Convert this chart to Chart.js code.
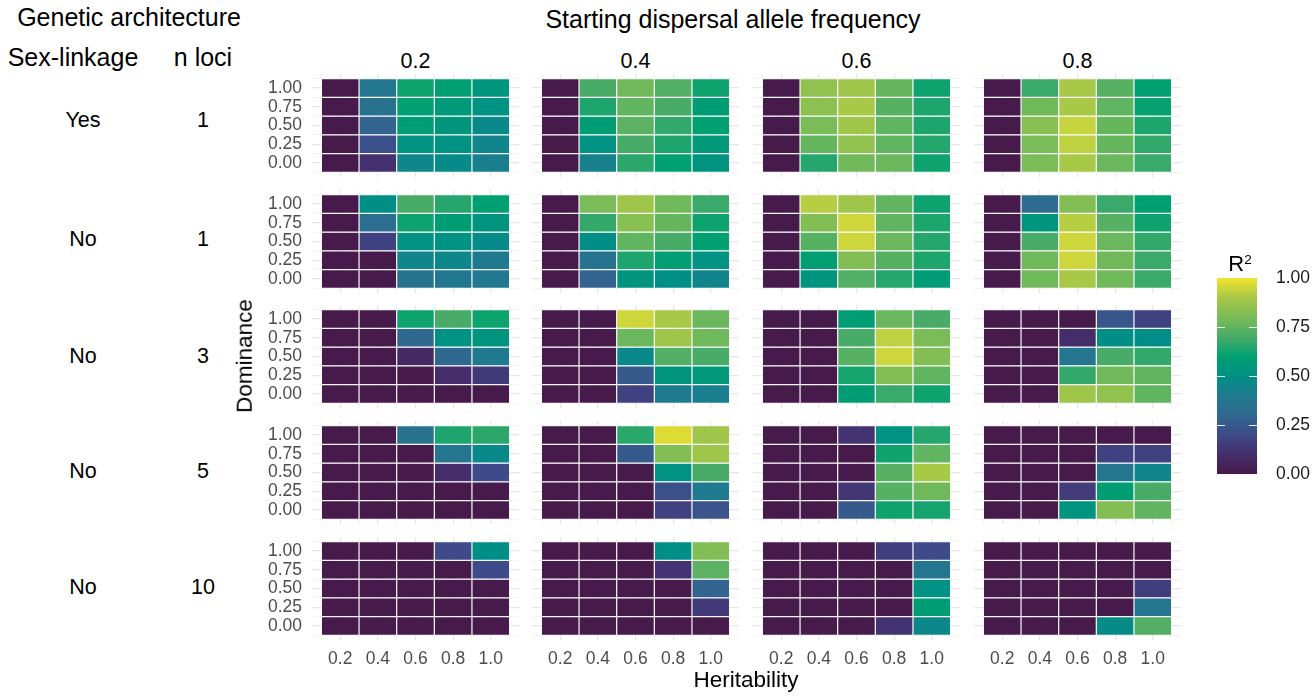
<!DOCTYPE html>
<html>
<head>
<meta charset="utf-8">
<title>R2 heatmaps</title>
<script src="https://cdn.jsdelivr.net/npm/chart.js@4.4.1/dist/chart.umd.min.js"></script>
<style>
  body { margin: 0; background: #fff; }
  #wrap { position: relative; width: 1315px; height: 697px; overflow: hidden;
          font-family: "Liberation Sans", Arial, Helvetica, sans-serif; color: #000; }
  .lbl { position: absolute; transform: translate(-50%, -50%); white-space: nowrap; line-height: 1; }
  .pnl { position: absolute; }
  sup { font-size: 0.62em; vertical-align: 0.55em; line-height: 0; }
</style>
</head>
<body>
<div id="wrap"></div>
<script>
// axes / facets
var heritability = [0.2, 0.4, 0.6, 0.8, 1.0];
var dominance = [1.00, 0.75, 0.50, 0.25, 0.00];   // top row first
var startFreq = ['0.2', '0.4', '0.6', '0.8'];
var sexLinkage = ['Yes', 'No', 'No', 'No', 'No'];
var nLoci = ['1', '1', '3', '5', '10'];
var legendTicks = [0, 0.25, 0.5, 0.75, 1];

// R2 values, one 5x5 grid per starting frequency (rows = dominance 1.00 -> 0.00, cols = heritability)
var r2_yes_1 = [
  [[0,0.38,0.62,0.60,0.54],[0,0.35,0.60,0.56,0.52],[0,0.28,0.58,0.54,0.47],[0,0.22,0.52,0.52,0.45],[0,0.11,0.45,0.48,0.42]],
  [[0,0.70,0.78,0.72,0.62],[0,0.64,0.75,0.70,0.58],[0,0.58,0.74,0.67,0.60],[0,0.52,0.70,0.64,0.56],[0,0.43,0.66,0.60,0.53]],
  [[0,0.85,0.88,0.76,0.62],[0,0.84,0.90,0.73,0.64],[0,0.80,0.88,0.75,0.64],[0,0.76,0.85,0.75,0.65],[0,0.65,0.78,0.77,0.62]],
  [[0,0.68,0.90,0.73,0.60],[0,0.78,0.90,0.75,0.61],[0,0.83,0.94,0.76,0.64],[0,0.80,0.93,0.76,0.67],[0,0.80,0.90,0.77,0.68]]
];
var r2_no_1 = [
  [[0,0.50,0.70,0.65,0.60],[0,0.33,0.62,0.58,0.53],[0,0.17,0.52,0.52,0.48],[0,0,0.45,0.46,0.40],[0,0,0.36,0.38,0.39]],
  [[0,0.80,0.88,0.78,0.68],[0,0.67,0.83,0.76,0.62],[0,0.50,0.75,0.70,0.60],[0,0.36,0.64,0.59,0.52],[0,0.28,0.53,0.50,0.45]],
  [[0,0.92,0.88,0.75,0.62],[0,0.82,0.95,0.75,0.64],[0,0.73,0.95,0.77,0.65],[0,0.59,0.82,0.73,0.64],[0,0.53,0.72,0.65,0.57]],
  [[0,0.32,0.82,0.68,0.60],[0,0.54,0.92,0.73,0.62],[0,0.70,0.95,0.77,0.67],[0,0.78,0.95,0.78,0.68],[0,0.78,0.90,0.78,0.68]]
];
var r2_no_3 = [
  [[0,0,0.62,0.70,0.62],[0,0,0.30,0.52,0.53],[0,0,0.08,0.30,0.40],[0,0,0,0.10,0.14],[0,0,0,0,0]],
  [[0,0,0.95,0.90,0.77],[0,0,0.77,0.88,0.78],[0,0,0.47,0.72,0.70],[0,0,0.25,0.53,0.55],[0,0,0.17,0.40,0.42]],
  [[0,0,0.58,0.77,0.70],[0,0,0.70,0.93,0.80],[0,0,0.73,0.95,0.82],[0,0,0.63,0.82,0.75],[0,0,0.58,0.68,0.62]],
  [[0,0,0,0.24,0.17],[0,0,0.10,0.50,0.50],[0,0,0.37,0.70,0.67],[0,0,0.67,0.78,0.75],[0,0,0.88,0.85,0.75]]
];
var r2_no_5 = [
  [[0,0,0.35,0.64,0.66],[0,0,0,0.37,0.47],[0,0,0,0.10,0.20],[0,0,0,0,0],[0,0,0,0,0]],
  [[0,0,0.66,0.97,0.88],[0,0,0.25,0.82,0.88],[0,0,0,0.52,0.70],[0,0,0,0.22,0.40],[0,0,0,0.17,0.23]],
  [[0,0,0.12,0.52,0.65],[0,0,0,0.62,0.75],[0,0,0,0.73,0.90],[0,0,0.13,0.73,0.78],[0,0,0.25,0.62,0.63]],
  [[0,0,0,0,0],[0,0,0,0.17,0.17],[0,0,0,0.37,0.45],[0,0,0.15,0.58,0.70],[0,0,0.53,0.82,0.75]]
];
var r2_no_10 = [
  [[0,0,0,0.20,0.50],[0,0,0,0,0.20],[0,0,0,0,0],[0,0,0,0,0],[0,0,0,0,0]],
  [[0,0,0,0.50,0.82],[0,0,0,0.12,0.74],[0,0,0,0,0.28],[0,0,0,0,0.14],[0,0,0,0,0]],
  [[0,0,0,0.16,0.20],[0,0,0,0,0.37],[0,0,0,0,0.52],[0,0,0,0,0.58],[0,0,0,0.12,0.46]],
  [[0,0,0,0,0],[0,0,0,0,0],[0,0,0,0,0.16],[0,0,0,0,0.37],[0,0,0,0.48,0.72]]
];
var architectures = [r2_yes_1, r2_no_1, r2_no_3, r2_no_5, r2_no_10];

// colour scale (viridis as it looks in the picture)
var colorStops = [[0,'#461a4b'],[0.1,'#452d6c'],[0.2,'#3e4a89'],[0.3,'#306990'],[0.4,'#1f7a90'],
  [0.5,'#008f86'],[0.6,'#00a070'],[0.7,'#48ac68'],[0.8,'#7abc58'],[0.9,'#a8c848'],[1,'#f2e52c']];

function hexToRgb(h) { return [1, 3, 5].map(function (i) { return parseInt(h.substr(i, 2), 16); }); }
function viridis(v) {
  v = Math.max(0, Math.min(1, v));
  for (var i = 1; i < colorStops.length; i++) {
    if (v <= colorStops[i][0]) {
      var a = colorStops[i - 1], b = colorStops[i];
      var t = (v - a[0]) / (b[0] - a[0]);
      var A = hexToRgb(a[1]), B = hexToRgb(b[1]);
      return 'rgb(' + A.map(function (x, k) { return Math.round(x + (B[k] - x) * t); }).join(',') + ')';
    }
  }
}

// layout
var AREA_LEFT = [312, 532, 753, 974];
var AREA_TOP = [74, 190, 305, 421, 537];
var AREA_W = 207, AREA_H = 103;
var TICK_COLOR = '#4d4d4d';

Chart.defaults.font.family = '"Liberation Sans", Arial, sans-serif';

var wrap = document.getElementById('wrap');
function addText(html, x, y, size, extra) {
  var d = document.createElement('div');
  d.className = 'lbl';
  d.innerHTML = html;
  d.style.left = x + 'px';
  d.style.top = y + 'px';
  d.style.fontSize = size + 'px';
  if (extra) Object.assign(d.style, extra);
  wrap.appendChild(d);
}

// tick positions: majors from the data arrays, minors halfway between
var hStep = heritability[1] - heritability[0];
var dStep = dominance[0] - dominance[1];
var xTicks = [], yTicks = [];
heritability.forEach(function (h) { xTicks.push(h - hStep / 2, h); });
xTicks.push(heritability[heritability.length - 1] + hStep / 2);
dominance.slice().reverse().forEach(function (d) { yTicks.push(d - dStep / 2, d); });
yTicks.push(dominance[0] + dStep / 2);

function isMajorX(v) { return heritability.some(function (h) { return Math.abs(h - v) < 1e-6; }); }
function isMajorY(v) { return dominance.some(function (d) { return Math.abs(d - v) < 1e-6; }); }

function makePanel(r, c) {
  var grid = architectures[r][c];
  var axW = c === 0 ? 70 : 0;
  var axH = r === architectures.length - 1 ? 40 : 0;
  var div = document.createElement('div');
  div.className = 'pnl';
  div.style.left = (AREA_LEFT[c] - axW) + 'px';
  div.style.top = AREA_TOP[r] + 'px';
  var cv = document.createElement('canvas');
  cv.width = axW + AREA_W;
  cv.height = AREA_H + axH;
  div.appendChild(cv);
  wrap.appendChild(div);

  var datasets = dominance.map(function (d, i) {
    return {
      data: heritability.map(function (h) { return { x: h, y: [d - dStep / 2, d + dStep / 2] }; }),
      backgroundColor: heritability.map(function (h, j) { return viridis(grid[i][j]); }),
      borderColor: 'rgba(255,255,255,0.8)',
      borderWidth: 0.6,
      borderSkipped: false,
      // bar width ruler takes the minor grid ticks (half a step) into account, so 2 = one full step
      barPercentage: 2,
      categoryPercentage: 1
    };
  });

  new Chart(cv, {
    type: 'bar',
    data: { datasets: datasets },
    options: {
      responsive: false,
      animation: false,
      events: [],
      layout: { padding: 0 },
      plugins: { legend: { display: false }, tooltip: { enabled: false } },
      scales: {
        x: {
          type: 'linear', stacked: true, offset: false,
          min: heritability[0] - hStep * 0.75, max: heritability[heritability.length - 1] + hStep * 0.75,
          afterBuildTicks: function (s) { s.ticks = xTicks.map(function (v) { return { value: v }; }); },
          afterFit: function (s) { s.height = axH; s.paddingLeft = 0; s.paddingRight = 0; },
          ticks: {
            display: axH > 0, autoSkip: false, maxRotation: 0, padding: 9, color: TICK_COLOR,
            font: { size: 17.5 },
            callback: function (v) { return isMajorX(v) ? v.toFixed(1) : ''; }
          },
          grid: {
            offset: false, drawTicks: false,
            color: function (ctx) { return isMajorX(ctx.tick.value) ? '#e6e6e6' : '#f1f1f1'; },
            lineWidth: function (ctx) { return isMajorX(ctx.tick.value) ? 1.2 : 0.8; }
          },
          border: { display: false }
        },
        y: {
          type: 'linear',
          min: dominance[dominance.length - 1] - dStep * 0.75, max: dominance[0] + dStep * 0.75,
          afterBuildTicks: function (s) { s.ticks = yTicks.map(function (v) { return { value: v }; }); },
          afterFit: function (s) { s.width = axW; s.paddingTop = 0; s.paddingBottom = 0; },
          ticks: {
            display: axW > 0, autoSkip: false, padding: 10, color: TICK_COLOR,
            font: { size: 17.5 },
            callback: function (v) { return isMajorY(v) ? v.toFixed(2) : ''; }
          },
          grid: {
            drawTicks: false,
            color: function (ctx) { return isMajorY(ctx.tick.value) ? '#e6e6e6' : '#f1f1f1'; },
            lineWidth: function (ctx) { return isMajorY(ctx.tick.value) ? 1.2 : 0.8; }
          },
          border: { display: false }
        }
      }
    }
  });
}

for (var r = 0; r < architectures.length; r++) {
  for (var c = 0; c < startFreq.length; c++) makePanel(r, c);
}

// colour bar legend
var legDiv = document.createElement('div');
legDiv.className = 'pnl';
legDiv.style.left = '1217px';
legDiv.style.top = '268px';
var legCv = document.createElement('canvas');
legCv.width = 100;
legCv.height = 216;
legDiv.appendChild(legCv);
wrap.appendChild(legDiv);

var barTicks = {
  id: 'barTicks',
  afterDatasetsDraw: function (chart) {
    var ys = chart.scales.y, ca = chart.chartArea, g = chart.ctx;
    g.save();
    g.strokeStyle = 'rgba(255,255,255,0.9)';
    g.lineWidth = 1.2;
    legendTicks.forEach(function (v) {
      if (v <= 0 || v >= 1) return;
      var y = Math.round(ys.getPixelForValue(v)) + 0.5;
      g.beginPath();
      g.moveTo(ca.left, y); g.lineTo(ca.left + 8, y);
      g.moveTo(ca.right - 8, y); g.lineTo(ca.right, y);
      g.stroke();
    });
    g.restore();
  }
};

new Chart(legCv, {
  type: 'bar',
  data: {
    labels: ['R2'],
    datasets: [{
      data: [[legendTicks[0], legendTicks[legendTicks.length - 1]]],
      backgroundColor: function (ctx) {
        var ca = ctx.chart.chartArea;
        if (!ca) return colorStops[0][1];
        var grad = ctx.chart.ctx.createLinearGradient(0, ca.bottom, 0, ca.top);
        colorStops.forEach(function (s) { grad.addColorStop(s[0], s[1]); });
        return grad;
      },
      borderWidth: 0,
      barPercentage: 1,
      categoryPercentage: 1
    }]
  },
  options: {
    responsive: false,
    animation: false,
    events: [],
    layout: { padding: { top: 10, bottom: 10 } },
    plugins: { legend: { display: false }, tooltip: { enabled: false } },
    scales: {
      x: { display: false },
      y: {
        position: 'right', min: 0, max: 1,
        afterBuildTicks: function (s) { s.ticks = legendTicks.map(function (v) { return { value: v }; }); },
        afterFit: function (s) { s.width = 60; s.paddingTop = 0; s.paddingBottom = 0; },
        ticks: { padding: 11, color: '#1a1a1a', font: { size: 17.5 },
                 callback: function (v) { return v.toFixed(2); } },
        grid: { display: false },
        border: { display: false }
      }
    }
  },
  plugins: [barTicks]
});

// texts
addText('Genetic architecture', 129, 17, 25);
addText('Starting dispersal allele frequency', 733, 19, 25);
addText('Sex-linkage', 73, 57, 25);
addText('n loci', 203, 57, 25);
var rowY = [121, 240, 357, 472, 588];
sexLinkage.forEach(function (s, i) {
  addText(s, 83, rowY[i], 21.5);
  addText(nLoci[i], 203, rowY[i], 21.5);
});
startFreq.forEach(function (f, c) {
  addText(f, AREA_LEFT[c] + AREA_W / 2, 62, 21.5);
});
addText('Dominance', 245, 356, 22.5, { transform: 'translate(-50%,-50%) rotate(-90deg)' });
addText('Heritability', 746, 680, 22.5);
addText('R<sup>2</sup>', 1240, 264, 22);
</script>
</body>
</html>
